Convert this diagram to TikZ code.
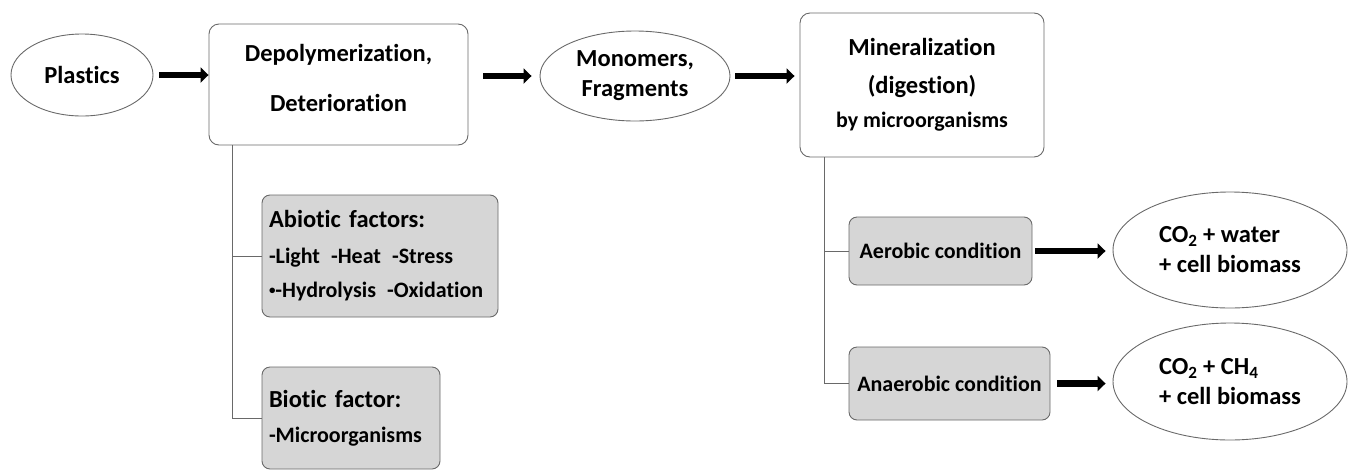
\documentclass[tikz,border=0pt]{standalone}
\usepackage{fontspec}
\setmainfont{Carlito}[Ligatures=NoCommon]
\usetikzlibrary{arrows.meta,shapes.geometric}
\definecolor{line_gray}{RGB}{105,105,105}
\definecolor{box_gray}{RGB}{214,214,214}
\newcommand{\smalltxt}{\fontsize{22}{30}\selectfont}
\newcommand{\dotmark}{\raisebox{3pt}{\fontsize{13}{13}\selectfont •}}

\begin{document}
\begin{tikzpicture}[x=1pt,y=-1pt,font=\bfseries\fontsize{24.5}{30}\selectfont]
    \tikzstyle{oval}=[draw=line_gray, ellipse, line width=0.9pt, inner sep=0pt, align=center]
    \tikzstyle{stage}=[draw=line_gray, rounded corners=10pt, line width=0.9pt, inner sep=0pt, align=center]
    \tikzstyle{factor}=[draw=line_gray, fill=box_gray, rounded corners=8pt, line width=0.9pt, inner xsep=7pt, inner ysep=0pt, align=left]
    \tikzstyle{cond}=[draw=line_gray, fill=box_gray, rounded corners=8pt, line width=0.9pt, inner sep=0pt, font=\bfseries\smalltxt]
    \tikzstyle{flow}=[line width=6.5pt, -{Triangle[length=8pt,width=15pt]}]
    \tikzstyle{tie}=[draw=line_gray, line width=0.9pt]
    \useasboundingbox (0,0) rectangle (1349,472);

    % top row
    \node[oval, minimum width=142pt, minimum height=82pt] (plastics) at (82,75) {Plastics};
    \node[stage, minimum width=259pt, minimum height=121pt,
          label={[align=center, yshift=7pt, name=depoltext]center:{Depolymerization,\\[20pt]Deterioration}}] (depol) at (338.5,84.5) {};
    \node[oval, minimum width=190pt, minimum height=90pt] (monomers) at (635,76) {Monomers,\\Fragments};
    \node[stage, minimum width=244pt, minimum height=144pt] (mineral) at (922,85)
        {Mineralization\\[8pt](digestion)\\[4pt]{\smalltxt by microorganisms}};

    % factors of deterioration
    \node[factor, text width=222pt, minimum height=122pt] (abiotic) at (380,256)
        {Abiotic factors:\\[6pt]{\smalltxt -Light\enspace-Heat\enspace-Stress}\\[4pt]{\smalltxt \dotmark-Hydrolysis\enspace-Oxidation}};
    \node[factor, text width=164pt, minimum height=102pt] (biotic) at (351,418)
        {Biotic factor:\\[5pt]{\smalltxt -Microorganisms}};

    % conditions of mineralization
    \node[cond, minimum width=183pt, minimum height=68pt] (aerobic) at (940.5,251) {Aerobic condition};
    \node[cond, minimum width=201pt, minimum height=73pt] (anaerobic) at (949.5,383.5) {Anaerobic condition};
    \node[oval, align=left, minimum width=234pt, minimum height=116pt] (co2water) at (1230,250)
        {CO\textsubscript{2} + water\\+ cell biomass};
    \node[oval, align=left, minimum width=234pt, minimum height=117pt] (co2methane) at (1230,381.5)
        {CO\textsubscript{2} + CH\textsubscript{4}\\+ cell biomass};

    \draw[flow, shorten <=6pt] (plastics.east) -- (plastics.east -| depol.west);
    \draw[flow, shorten <=15pt, shorten >=8pt] (depol.east |- monomers.west) -- (monomers.west);
    \draw[flow, shorten <=5pt, shorten >=5pt] (monomers.east) -- (monomers.east -| mineral.west);
    \draw[flow, shorten <=3pt, shorten >=7pt] (aerobic.east) -- (aerobic.east -| co2water.west);
    \draw[flow, shorten <=7pt, shorten >=7pt] (anaerobic.east) -- (anaerobic.east -| co2methane.west);

    \draw[tie] ([xshift=24pt]depol.south west) |- (abiotic.west);
    \draw[tie] ([xshift=24pt]depol.south west) |- (biotic.west);
    \draw[tie] ([xshift=25pt]mineral.south west) |- (aerobic.west);
    \draw[tie] ([xshift=25pt]mineral.south west) |- (anaerobic.west);
\end{tikzpicture}
\end{document}
